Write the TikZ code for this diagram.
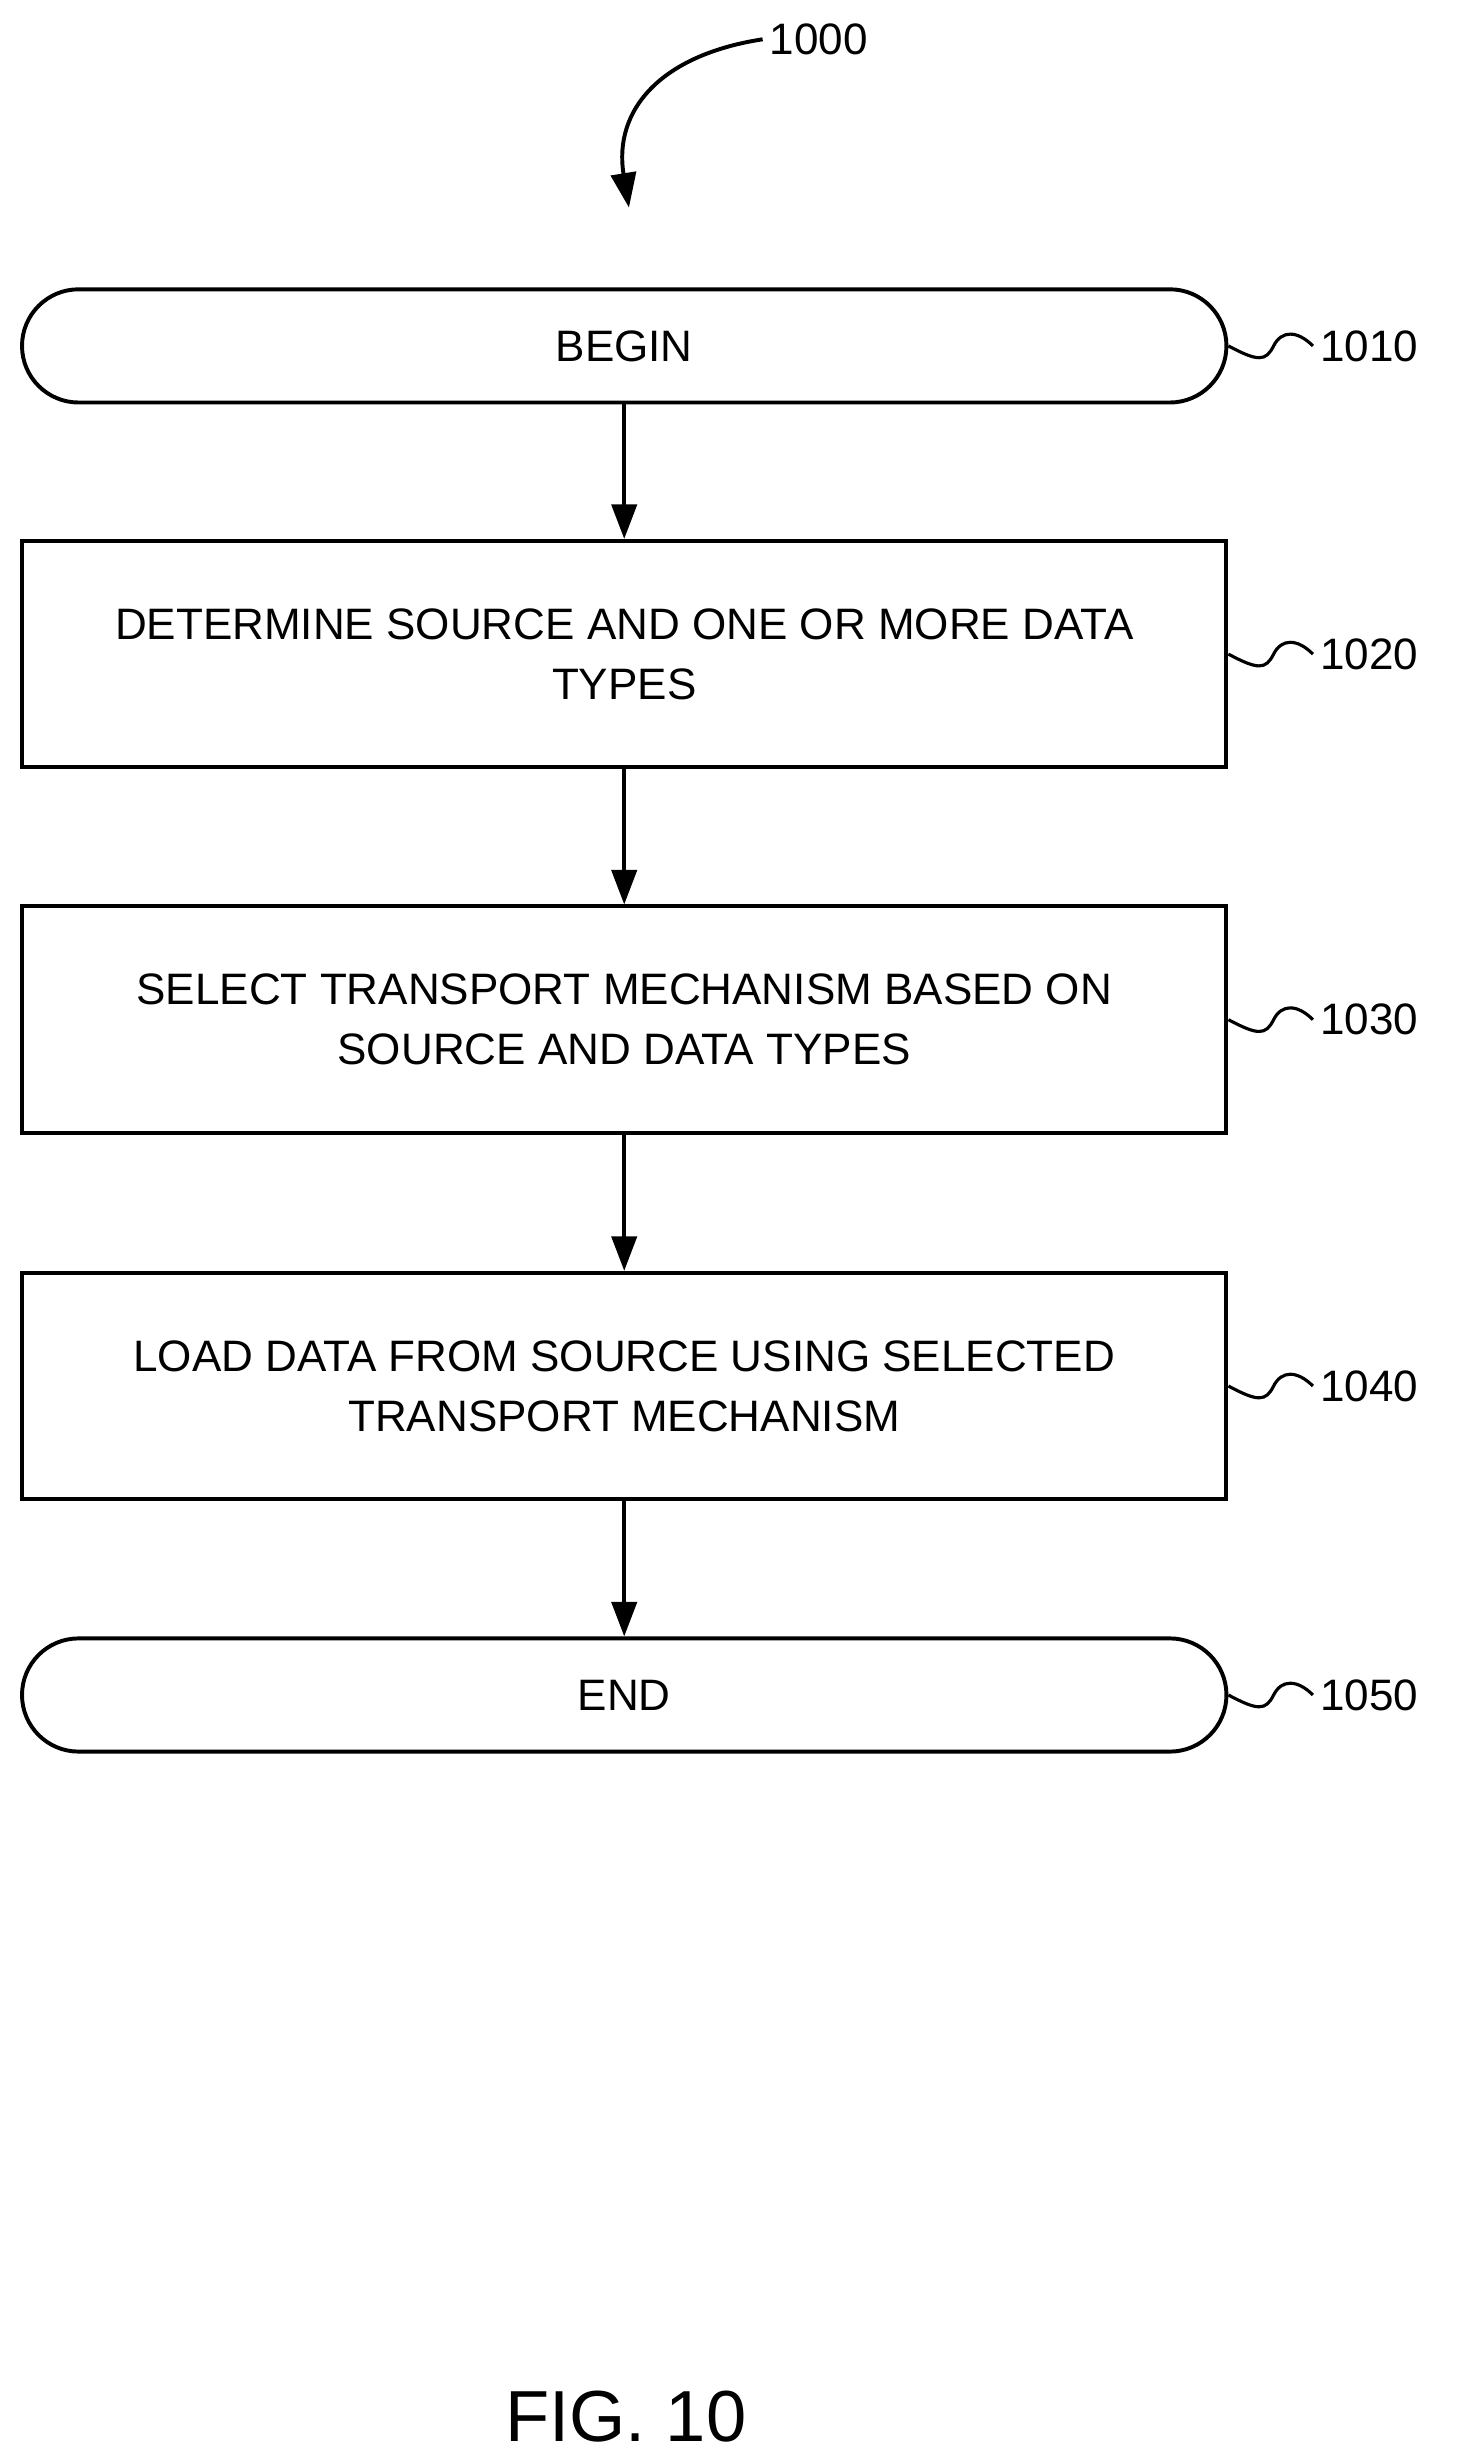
\documentclass[tikz,border=0pt]{standalone}
\usepackage{fontspec}
\setmainfont{Liberation Sans}
\usetikzlibrary{arrows.meta}
\begin{document}
\begin{tikzpicture}[x=1pt,y=-1pt,line width=2.5pt,
  box/.style={draw,minimum width=766pt,align=center,font=\fontsize{28}{38}\selectfont,inner sep=0pt},
  capsule/.style={box,rounded corners=36pt,minimum height=72pt},
  rect/.style={box,minimum height=144pt},
  lbl/.style={font=\fontsize{28}{34}\selectfont,anchor=west},
  arr/.style={-{Triangle[length=22pt,width=16pt]}},
  sq/.style={line width=2pt}]
\useasboundingbox (0,0) rectangle (943,1562);
\node[capsule] (b) at (397,220) {BEGIN};
\node[rect] (s1) at (397,416) {DETERMINE SOURCE AND ONE OR MORE DATA\\TYPES};
\node[rect] (s2) at (397,648.5) {SELECT TRANSPORT MECHANISM BASED ON\\SOURCE AND DATA TYPES};
\node[rect] (s3) at (397,881.5) {LOAD DATA FROM SOURCE USING SELECTED\\TRANSPORT MECHANISM};
\node[capsule] (e) at (397,1078) {END};
\draw[arr] (b) -- (s1);
\draw[arr] (s1) -- (s2);
\draw[arr] (s2) -- (s3);
\draw[arr] (s3) -- (e);
\foreach \n/\y/\t in {b/220/1010,s1/416/1020,s2/648.5/1030,s3/881.5/1040,e/1078/1050}{
  \node[lbl] (l\t) at (835,\y) {\t};
  \draw[sq] (\n.east |- 0,\y) .. controls (800,\y+10) and (805,\y+10) .. (810,\y)
     .. controls (815,\y-10) and (825,\y-10) .. (l\t.west);
}
\node[lbl] (top) at (485,25) {1000};
\coordinate (tip) at (400,132);
\draw[arr] (top.west) .. controls (420,35) and (390,70) .. (tip);
\node[font=\fontsize{46}{54}\selectfont] (fig) at (398,1537) {FIG. 10};
\end{tikzpicture}
\end{document}
